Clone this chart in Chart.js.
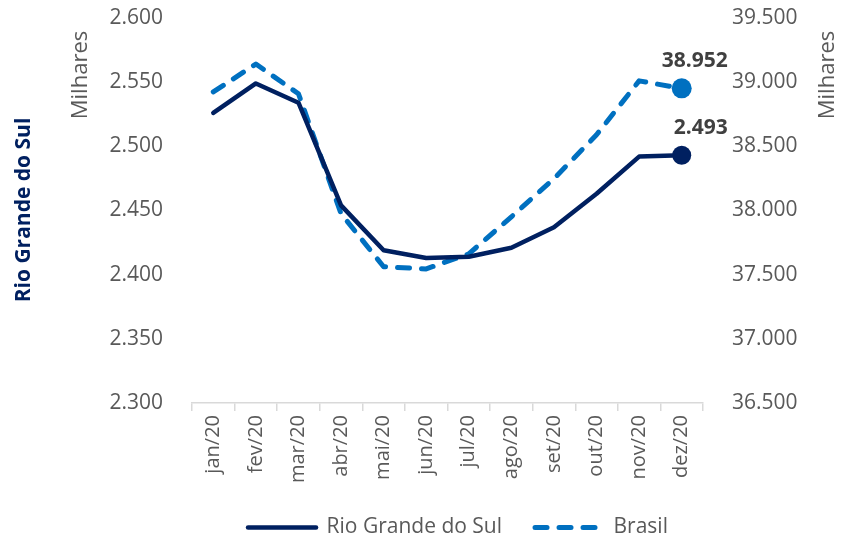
<!DOCTYPE html>
<html>
<head>
<meta charset="utf-8">
<script src="https://cdn.jsdelivr.net/npm/chart.js@4/dist/chart.umd.min.js"></script>
<style>
  html, body { margin: 0; padding: 0; background: #fff; }
  #wrap { width: 842px; height: 536px; }
</style>
</head>
<body>
<div id="wrap"><canvas id="myChart" width="842" height="536"></canvas></div>
<script>
// data (milhares)
const months = ["jan/20", "fev/20", "mar/20", "abr/20", "mai/20", "jun/20",
                "jul/20", "ago/20", "set/20", "out/20", "nov/20", "dez/20"];
const rsValues = [2526, 2549, 2534, 2454, 2419, 2413, 2414, 2421, 2437, 2463, 2492, 2493];
const brValues = [38924, 39141, 38910, 37975, 37562, 37545, 37662, 37950, 38248, 38590, 39010, 38952];
const leftTicks = [2300, 2350, 2400, 2450, 2500, 2550, 2600];
const rightTicks = [36500, 37000, 37500, 38000, 38500, 39000, 39500];

const navy = "#002060";
const blue = "#0070C0";
const grey = "#595959";
const font = "'Open Sans', sans-serif";

function fmt(v) {
  return Math.round(v).toString().replace(/\B(?=(\d{3})+(?!\d))/g, ".");
}

// last point only gets a marker
function lastOnly(n, r) {
  return months.map((m, i) => (i === months.length - 1 ? r : n));
}

// extra texts: axis titles, "Milhares", end labels
const extras = {
  id: "extras",
  afterDraw(chart) {
    const c = chart.ctx;
    c.save();
    c.textAlign = "center";
    c.textBaseline = "middle";

    c.font = "bold 21px " + font;
    c.fillStyle = navy;
    c.save();
    c.translate(24, 210);
    c.rotate(-Math.PI / 2);
    c.fillText("Rio Grande do Sul", 0, 0);
    c.restore();

    c.font = "22px " + font;
    c.fillStyle = grey;
    [81, 828].forEach(x => {
      c.save();
      c.translate(x, 75);
      c.rotate(-Math.PI / 2);
      c.fillText("Milhares", 0, 0);
      c.restore();
    });

    // end values
    c.font = "bold 21px " + font;
    c.fillStyle = "#404040";
    c.textAlign = "right";
    chart.data.datasets.forEach((ds, i) => {
      const meta = chart.getDatasetMeta(i);
      const last = meta.data[meta.data.length - 1];
      const v = ds.data[ds.data.length - 1];
      c.fillText(fmt(v), last.x + 46, last.y - 27);
    });
    c.restore();
  }
};

const ctx = document.getElementById("myChart");

new Chart(ctx, {
  type: "line",
  data: {
    labels: months,
    datasets: [
      {
        label: "Rio Grande do Sul",
        data: rsValues,
        yAxisID: "y",
        borderColor: navy,
        backgroundColor: navy,
        borderWidth: 4.5,
        borderCapStyle: "round",
        borderJoinStyle: "round",
        pointRadius: lastOnly(0, 9.5),
        pointHoverRadius: lastOnly(0, 9.5),
        pointBackgroundColor: navy,
        pointBorderWidth: 0,
        tension: 0
      },
      {
        label: "Brasil",
        data: brValues,
        yAxisID: "y1",
        borderColor: blue,
        backgroundColor: blue,
        borderWidth: 5,
        borderDash: [12, 12],
        borderCapStyle: "round",
        borderJoinStyle: "round",
        pointRadius: lastOnly(0, 10),
        pointHoverRadius: lastOnly(0, 10),
        pointBackgroundColor: blue,
        pointBorderWidth: 0,
        tension: 0
      }
    ]
  },
  options: {
    responsive: false,
    animation: false,
    layout: { padding: { top: 18, left: 74, right: 0, bottom: -12 } },
    plugins: {
      tooltip: { enabled: false },
      legend: {
        position: "bottom",
        labels: {
          usePointStyle: true,
          pointStyle: "line",
          pointStyleWidth: 68,
          color: grey,
          font: { family: font, size: 21 },
          padding: 33,
          generateLabels(chart) {
            return chart.data.datasets.map((ds, i) => ({
              text: ds.label,
              datasetIndex: i,
              pointStyle: "line",
              strokeStyle: ds.borderColor,
              fillStyle: ds.borderColor,
              fontColor: grey,
              lineWidth: ds.borderWidth,
              lineDash: ds.borderDash || [],
              lineCap: "round",
              hidden: false
            }));
          }
        }
      }
    },
    scales: {
      x: {
        offset: true,
        afterFit(scale) { scale.height = 81; },
        grid: {
          offset: true,
          drawOnChartArea: false,
          color: "#d9d9d9",
          tickLength: 8,
          lineWidth: 1.5
        },
        border: { color: "#d9d9d9", width: 1.5 },
        ticks: {
          color: grey,
          font: { family: font, size: 20 },
          minRotation: 90,
          maxRotation: 90,
          padding: 4
        }
      },
      y: {
        position: "left",
        min: 2300,
        max: 2600,
        afterFit(scale) { scale.width = 118; },
        afterBuildTicks(scale) { scale.ticks = leftTicks.map(v => ({ value: v })); },
        grid: { display: false, drawTicks: true, tickLength: 29 },
        border: { display: false },
        ticks: {
          color: grey,
          font: { family: font, size: 21 },
          padding: 0,
          callback: v => fmt(v)
        }
      },
      y1: {
        position: "right",
        min: 36500,
        max: 39500,
        afterFit(scale) { scale.width = 139; },
        afterBuildTicks(scale) { scale.ticks = rightTicks.map(v => ({ value: v })); },
        grid: { display: false, drawTicks: true, tickLength: 29 },
        border: { display: false },
        ticks: {
          color: grey,
          font: { family: font, size: 21 },
          padding: 0,
          callback: v => fmt(v)
        }
      }
    }
  },
  plugins: [extras]
});
</script>
</body>
</html>
